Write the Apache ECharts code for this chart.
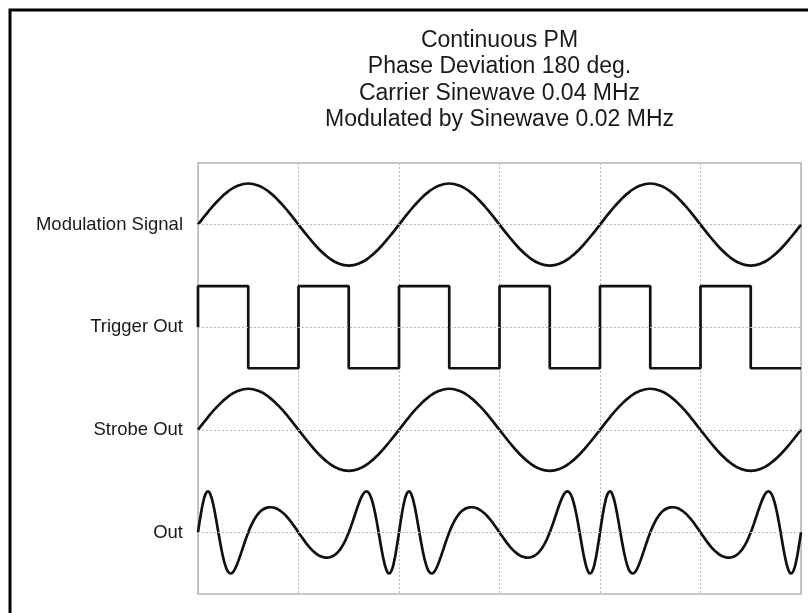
<!DOCTYPE html>
<html>
<head>
<meta charset="utf-8">
<script src="https://cdn.jsdelivr.net/npm/echarts@6/dist/echarts.min.js"></script>
<style>
html,body{margin:0;padding:0;background:#fff;}
#chart{width:808px;height:613px;}
</style>
</head>
<body>
<div id="chart"></div>
<script>
// ---- data (time in microseconds) ----
const titleLines = ["Continuous PM", "Phase Deviation 180 deg.", "Carrier Sinewave 0.04 MHz", "Modulated by Sinewave 0.02 MHz"];
const channelNames = ["Modulation Signal", "Trigger Out", "Strobe Out", "Out"];
const xTicks = [0, 25, 50, 75, 100, 125, 150];

const modTimes = [0,2.5,5,7.5,10,12.5,15,17.5,20,22.5,25,27.5,30,32.5,35,37.5,40,42.5,45,47.5,50,52.5,55,57.5,60,62.5,65,67.5,70,72.5,75,77.5,80,82.5,85,87.5,90,92.5,95,97.5,100,102.5,105,107.5,110,112.5,115,117.5,120,122.5,125,127.5,130,132.5,135,137.5,140,142.5,145,147.5,150];
const modValues = [0,0.309,0.588,0.809,0.951,1,0.951,0.809,0.588,0.309,0,-0.309,-0.588,-0.809,-0.951,-1,-0.951,-0.809,-0.588,-0.309,
                   0,0.309,0.588,0.809,0.951,1,0.951,0.809,0.588,0.309,0,-0.309,-0.588,-0.809,-0.951,-1,-0.951,-0.809,-0.588,-0.309,
                   0,0.309,0.588,0.809,0.951,1,0.951,0.809,0.588,0.309,0,-0.309,-0.588,-0.809,-0.951,-1,-0.951,-0.809,-0.588,-0.309,0];

const trigTimes = [0,0,12.5,25,37.5,50,62.5,75,87.5,100,112.5,125,137.5,150];
const trigLevels = [0,1,-1,1,-1,1,-1,1,-1,1,-1,1,-1,-1];

const strobeTimes = [0,2.5,5,7.5,10,12.5,15,17.5,20,22.5,25,27.5,30,32.5,35,37.5,40,42.5,45,47.5,50,52.5,55,57.5,60,62.5,65,67.5,70,72.5,75,77.5,80,82.5,85,87.5,90,92.5,95,97.5,100,102.5,105,107.5,110,112.5,115,117.5,120,122.5,125,127.5,130,132.5,135,137.5,140,142.5,145,147.5,150];
const strobeValues = [0,0.309,0.588,0.809,0.951,1,0.951,0.809,0.588,0.309,0,-0.309,-0.588,-0.809,-0.951,-1,-0.951,-0.809,-0.588,-0.309,
                      0,0.309,0.588,0.809,0.951,1,0.951,0.809,0.588,0.309,0,-0.309,-0.588,-0.809,-0.951,-1,-0.951,-0.809,-0.588,-0.309,
                      0,0.309,0.588,0.809,0.951,1,0.951,0.809,0.588,0.309,0,-0.309,-0.588,-0.809,-0.951,-1,-0.951,-0.809,-0.588,-0.309,0];

const outTimes = [
  0,0.625,1.25,1.875,2.5,3.125,3.75,4.375, 5,5.625,6.25,6.875,7.5,8.125,8.75,9.375,
  10,10.625,11.25,11.875,12.5,13.125,13.75,14.375, 15,15.625,16.25,16.875,17.5,18.125,18.75,19.375,
  20,20.625,21.25,21.875,22.5,23.125,23.75,24.375, 25,25.625,26.25,26.875,27.5,28.125,28.75,29.375,
  30,30.625,31.25,31.875,32.5,33.125,33.75,34.375, 35,35.625,36.25,36.875,37.5,38.125,38.75,39.375,
  40,40.625,41.25,41.875,42.5,43.125,43.75,44.375, 45,45.625,46.25,46.875,47.5,48.125,48.75,49.375,
  50,50.625,51.25,51.875,52.5,53.125,53.75,54.375, 55,55.625,56.25,56.875,57.5,58.125,58.75,59.375,
  60,60.625,61.25,61.875,62.5,63.125,63.75,64.375, 65,65.625,66.25,66.875,67.5,68.125,68.75,69.375,
  70,70.625,71.25,71.875,72.5,73.125,73.75,74.375, 75,75.625,76.25,76.875,77.5,78.125,78.75,79.375,
  80,80.625,81.25,81.875,82.5,83.125,83.75,84.375, 85,85.625,86.25,86.875,87.5,88.125,88.75,89.375,
  90,90.625,91.25,91.875,92.5,93.125,93.75,94.375, 95,95.625,96.25,96.875,97.5,98.125,98.75,99.375,
  100,100.625,101.25,101.875,102.5,103.125,103.75,104.375, 105,105.625,106.25,106.875,107.5,108.125,108.75,109.375,
  110,110.625,111.25,111.875,112.5,113.125,113.75,114.375, 115,115.625,116.25,116.875,117.5,118.125,118.75,119.375,
  120,120.625,121.25,121.875,122.5,123.125,123.75,124.375, 125,125.625,126.25,126.875,127.5,128.125,128.75,129.375,
  130,130.625,131.25,131.875,132.5,133.125,133.75,134.375, 135,135.625,136.25,136.875,137.5,138.125,138.75,139.375,
  140,140.625,141.25,141.875,142.5,143.125,143.75,144.375, 145,145.625,146.25,146.875,147.5,148.125,148.75,149.375,
  150];
const outValues = [
  0,0.393,0.722,0.934,1,0.914,0.698,0.39,0.038,-0.307,-0.606,-0.828,-0.959,-1,-0.959,-0.854,-0.705,-0.53,-0.346,-0.166,
  0,0.147,0.272,0.375,0.457,0.52,0.565,0.594,0.61,0.614,0.606,0.586,0.556,0.516,0.465,0.405,0.336,0.259,0.176,0.089,
  0,-0.089,-0.176,-0.259,-0.336,-0.405,-0.465,-0.516,-0.556,-0.586,-0.606,-0.614,-0.61,-0.594,-0.565,-0.52,-0.457,-0.375,-0.272,-0.147,
  0,0.166,0.346,0.53,0.705,0.854,0.959,1,0.959,0.828,0.606,0.307,-0.038,-0.39,-0.698,-0.914,-1,-0.934,-0.722,-0.393,
  0,0.393,0.722,0.934,1,0.914,0.698,0.39,0.038,-0.307,-0.606,-0.828,-0.959,-1,-0.959,-0.854,-0.705,-0.53,-0.346,-0.166,
  0,0.147,0.272,0.375,0.457,0.52,0.565,0.594,0.61,0.614,0.606,0.586,0.556,0.516,0.465,0.405,0.336,0.259,0.176,0.089,
  0,-0.089,-0.176,-0.259,-0.336,-0.405,-0.465,-0.516,-0.556,-0.586,-0.606,-0.614,-0.61,-0.594,-0.565,-0.52,-0.457,-0.375,-0.272,-0.147,
  0,0.166,0.346,0.53,0.705,0.854,0.959,1,0.959,0.828,0.606,0.307,-0.038,-0.39,-0.698,-0.914,-1,-0.934,-0.722,-0.393,
  0,0.393,0.722,0.934,1,0.914,0.698,0.39,0.038,-0.307,-0.606,-0.828,-0.959,-1,-0.959,-0.854,-0.705,-0.53,-0.346,-0.166,
  0,0.147,0.272,0.375,0.457,0.52,0.565,0.594,0.61,0.614,0.606,0.586,0.556,0.516,0.465,0.405,0.336,0.259,0.176,0.089,
  0,-0.089,-0.176,-0.259,-0.336,-0.405,-0.465,-0.516,-0.556,-0.586,-0.606,-0.614,-0.61,-0.594,-0.565,-0.52,-0.457,-0.375,-0.272,-0.147,
  0,0.166,0.346,0.53,0.705,0.854,0.959,1,0.959,0.828,0.606,0.307,-0.038,-0.39,-0.698,-0.914,-1,-0.934,-0.722,-0.393,
  0];

// ---- layout: each channel drawn around its own baseline ----
const channelSpacing = 2.5;
const offsets = channelNames.map((_, i) => -i * channelSpacing);
const FONT = '"Liberation Sans", Arial, Helvetica, sans-serif';
const INK = '#111';

function pairs(times, vals, off) {
  return times.map((t, i) => [t, vals[i] + off]);
}

const signals = [
  { times: modTimes, vals: modValues, smooth: true },
  { times: trigTimes, vals: trigLevels, step: 'end' },
  { times: strobeTimes, vals: strobeValues, smooth: true },
  { times: outTimes, vals: outValues, smooth: true }
];

const series = [{
  type: 'line',
  data: [],
  silent: true,
  z: 1,
  markLine: {
    silent: true,
    symbol: ['none', 'none'],
    label: { show: false },
    lineStyle: { type: [2, 2], color: '#b8b8b8', width: 1 },
    emphasis: { disabled: true },
    data: offsets.map(v => ({ yAxis: v }))
  }
}].concat(signals.map((s, i) => ({
  type: 'line',
  name: channelNames[i],
  data: pairs(s.times, s.vals, offsets[i]),
  smooth: s.smooth || false,
  step: s.step || false,
  showSymbol: false,
  symbol: 'none',
  z: 3,
  lineStyle: { color: INK, width: 2.7 },
  emphasis: { disabled: true }
})));

const chart = echarts.init(document.getElementById('chart'), null, { renderer: 'canvas' });
chart.setOption({
  animation: false,
  backgroundColor: '#fff',
  title: {
    text: titleLines.join('\n'),
    left: 499.5,
    top: 27,
    padding: 0,
    textAlign: 'center',
    textVerticalAlign: 'top',
    textStyle: { fontFamily: FONT, fontSize: 23, fontWeight: 'normal', color: '#1a1a1a', lineHeight: 26.5 }
  },
  graphic: [{
    type: 'rect',
    silent: true,
    shape: { x: 10, y: 10, width: 900, height: 700 },
    style: { fill: 'none', stroke: '#000', lineWidth: 3 },
    z: 100
  }],
  grid: {
    left: 198, right: 7, top: 163, bottom: 19,
    show: true, borderColor: '#b5b5b5', borderWidth: 1.5, backgroundColor: 'transparent'
  },
  xAxis: {
    type: 'value',
    min: xTicks[0], max: xTicks[xTicks.length - 1], interval: xTicks[1] - xTicks[0],
    axisLine: { show: false }, axisTick: { show: false }, axisLabel: { show: false },
    splitLine: { show: true, lineStyle: { type: [2, 2], color: '#b8b8b8', width: 1 } }
  },
  yAxis: {
    type: 'value',
    min: -9, max: 1.5,
    axisLine: { show: false }, axisTick: { show: false },
    splitLine: { show: false },
    axisLabel: {
      customValues: offsets,
      margin: 15,
      fontFamily: FONT, fontSize: 18.5, color: '#1a1a1a',
      formatter: function (v) {
        const idx = offsets.findIndex(o => Math.abs(o - v) < 1e-6);
        return idx >= 0 ? channelNames[idx] : '';
      }
    }
  },
  series: series
});
</script>
</body>
</html>
